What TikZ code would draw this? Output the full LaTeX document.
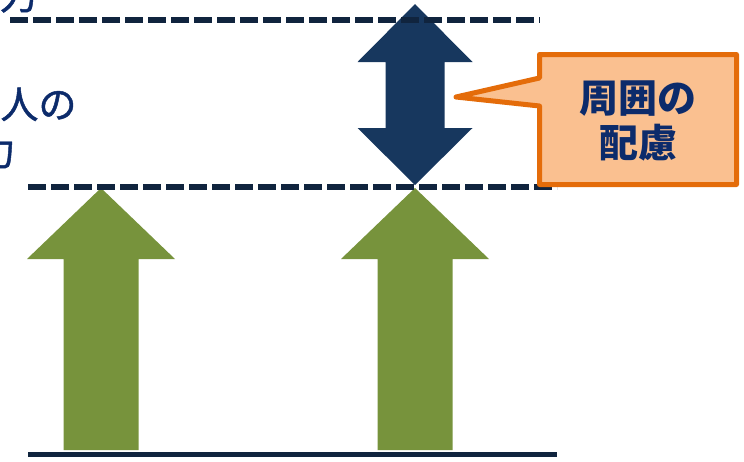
\documentclass[tikz,border=0pt]{standalone}
\usepackage{fontspec}
\newfontfamily\jpfont{Noto Sans CJK JP}
\newfontfamily\jplabel{Noto Sans CJK JP}[FakeBold=1.2]
\usepackage{xcolor}
\usetikzlibrary{positioning}
\definecolor{arrownavy}{HTML}{17375E}
\definecolor{dashnavy}{HTML}{10243E}
\definecolor{textnavy}{HTML}{0C2B6B}
\definecolor{olivegreen}{HTML}{77933C}
\definecolor{calloutfill}{HTML}{FAC090}
\definecolor{calloutline}{HTML}{E46C0A}

\begin{document}
\begin{tikzpicture}[x=1pt, y=-1pt,
  every node/.style={font=\jplabel\fontsize{38}{45}\selectfont, text=textnavy},
  dashline/.style={draw=dashnavy, line width=5.5pt, dash pattern=on 17.5pt off 5.5pt}]
\useasboundingbox (0,0) rectangle (744,461);
\clip (0,0) rectangle (744,461);

% Left labels (cut at the edge)
\node[anchor=east] (toplabel) at (41,-5) {能力};
\node[anchor=east] (selfA) at (80,104) {個人の};
\node[anchor=east] (selfB) at (19,151) {能力};

% Green arrows
\foreach \x in {101,415} {
    \fill[olivegreen] (\x-37.5,450) -- (\x-37.5,259) -- (\x-74,259) -- (\x,188)
        -- (\x+74,259) -- (\x+37.5,259) -- (\x+37.5,450) -- cycle;
}

% Double arrow
\fill[arrownavy] (415,4) -- (472.5,62) -- (444.5,62) -- (444.5,128) -- (472.5,128)
    -- (415,185) -- (357.5,128) -- (385.5,128) -- (385.5,62) -- (357.5,62) -- cycle;

% Levels
\draw[dashline] (10,20) -- (540,20);
\draw[dashline] (28,187) -- (557,187);
\draw[draw=dashnavy, line width=5pt] (28,454) -- (557,454);

% Callout
\draw[calloutline, fill=calloutfill, line width=5pt, line join=round]
    (539.5,54.5) -- (736.5,54.5) -- (736.5,184.5) -- (539.5,184.5) -- (539.5,106)
    -- (456,97) -- (539.5,78) -- cycle;
\node[align=center, font=\jpfont\bfseries\fontsize{39}{45}\selectfont] (care) at (638,121) {周囲の\\配慮};
\end{tikzpicture}
\end{document}
